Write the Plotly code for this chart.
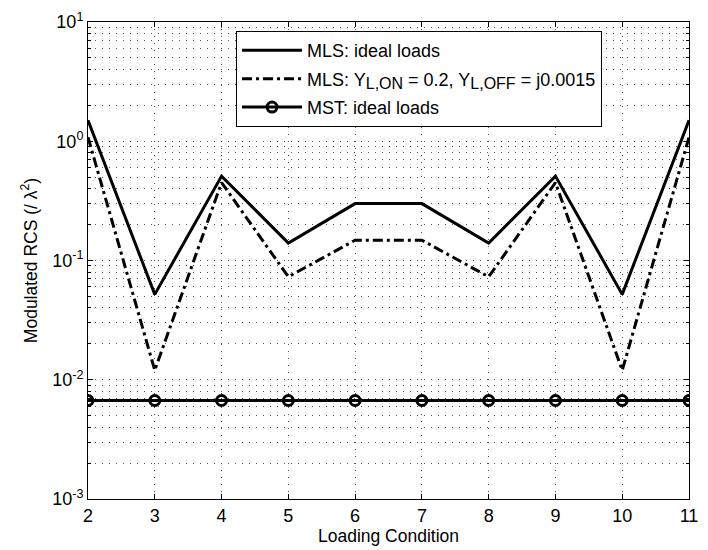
import plotly.graph_objects as go

# Loading conditions on the x axis
loading_condition = [2, 3, 4, 5, 6, 7, 8, 9, 10, 11]

# Modulated RCS (normalised to lambda^2)
mls_ideal = [1.50, 0.052, 0.51, 0.14, 0.30, 0.30, 0.14, 0.51, 0.052, 1.50]
mls_nonideal = [1.08, 0.012, 0.45, 0.073, 0.148, 0.148, 0.073, 0.45, 0.012, 1.08]
mst_ideal = [0.0067] * 10

# Decade tick labels for the log axis
y_tick_vals = [1e-3, 1e-2, 1e-1, 1e0, 1e1]
y_tick_text = ["10<sup>-3</sup>", "10<sup>-2</sup>", "10<sup>-1</sup>",
               "10<sup>0</sup>", "10<sup>1</sup>"]

FONT = "Liberation Sans, Arial, Helvetica, sans-serif"
GRID = "#555555"


def sub(text):
    # subscript drawn a little larger than plotly's default 70 %
    return '<sub><span style="font-size:16px">' + text + "</span></sub>"


fig = go.Figure()

fig.add_trace(go.Scatter(
    x=loading_condition, y=mls_ideal, mode="lines",
    name="MLS: ideal loads", legendgroup="a",
    line=dict(color="black", width=3),
))
fig.add_trace(go.Scatter(
    x=loading_condition, y=mls_nonideal, mode="lines",
    name="MLS: Y" + sub("L,ON") + " = 0.2, Y" + sub("L,OFF") + " = j0.0015",
    legendgroup="b",
    line=dict(color="black", width=3, dash="10px,4px,3px,4px"),
))
fig.add_trace(go.Scatter(
    x=loading_condition, y=mst_ideal, mode="lines+markers",
    name="MST: ideal loads", legendgroup="c",
    line=dict(color="black", width=3),
    marker=dict(symbol="circle-open", size=10, color="black",
                line=dict(color="black", width=3)),
))

fig.update_layout(
    width=708, height=550,
    margin=dict(l=87.5, r=9.5, t=21, b=51),
    paper_bgcolor="white", plot_bgcolor="white",
    font=dict(family=FONT, size=18, color="black"),
    showlegend=True,
    legend=dict(
        x=0.2463, y=0.981, xanchor="left", yanchor="top",
        bgcolor="white", bordercolor="black", borderwidth=1,
        font=dict(size=18), traceorder="grouped", tracegroupgap=2,
        itemwidth=60,
    ),
    xaxis=dict(
        range=[2, 11], tickmode="linear", tick0=2, dtick=1,
        showline=True, mirror="allticks", linecolor="black", linewidth=1,
        ticks="inside", ticklen=5, tickcolor="black",
        showgrid=True, gridcolor=GRID, gridwidth=1, griddash="1px,6px",
        zeroline=False,
        title=dict(text="Loading Condition", font=dict(size=17.5), standoff=3),
    ),
    yaxis=dict(
        type="log", range=[-3, 1],
        tickmode="array", tickvals=y_tick_vals, ticktext=y_tick_text,
        showline=True, mirror="allticks", linecolor="black", linewidth=1,
        ticks="inside", ticklen=5, tickcolor="black",
        showgrid=True, gridcolor=GRID, gridwidth=1, griddash="1px,6px",
        minor=dict(dtick="D1", ticks="inside", ticklen=3, tickcolor="black",
                   showgrid=True, gridcolor=GRID, gridwidth=1, griddash="1px,6px"),
        zeroline=False,
        title=dict(text="Modulated RCS (/ λ<sup>2</sup>)", font=dict(size=17.5), standoff=10),
    ),
)

fig.write_html("out.html")
